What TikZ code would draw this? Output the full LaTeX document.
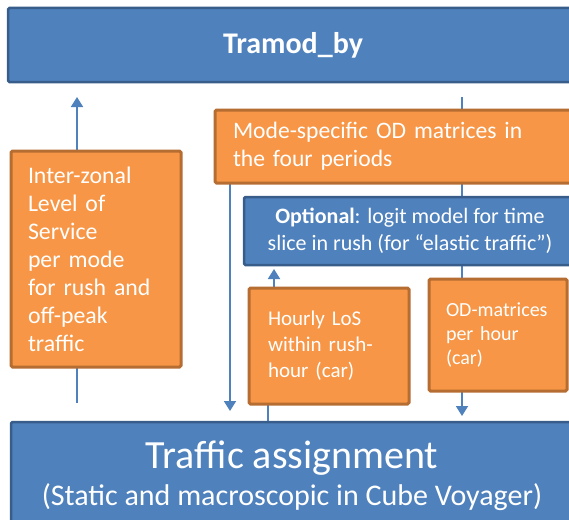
\documentclass[tikz,border=0pt]{standalone}
\usepackage{fontspec}
\setmainfont{Carlito}
\usetikzlibrary{arrows.meta,backgrounds}
\definecolor{boxblue}{HTML}{4F81BD}
\definecolor{boxblueline}{HTML}{385D8A}
\definecolor{boxorange}{HTML}{F79646}
\definecolor{boxorangeline}{HTML}{B66D31}
\begin{document}
\begin{tikzpicture}[x=1pt,y=-1pt]
        \tikzset{
            bluebox/.style={draw=boxblueline, fill=boxblue, line width=2.5pt, text=white, rounded corners=1.5pt, inner sep=0pt, outer sep=0pt, align=center},
            orangebox/.style={draw=boxorangeline, fill=boxorange, line width=3pt, text=white, rounded corners=1.5pt, inner sep=0pt, outer sep=0pt, align=left},
            flow/.style={-{Triangle[width=12pt,length=10pt]}, line width=1.8pt, draw=boxblue},
            link/.style={line width=1.8pt, draw=boxblue}
        }
        \useasboundingbox (0,0) rectangle (569,519);
        \clip (0,0) rectangle (569,519);
        \coordinate (lcol) at (77,0);
        \coordinate (dcol) at (230,0);
        \coordinate (ucol) at (274,0);
        \coordinate (bcol) at (268,0);
        \coordinate (rcol) at (462,0);
        \node[bluebox, minimum width=570pt, minimum height=74pt, font=\fontsize{30}{34}\selectfont\bfseries] (tramod) at (293,45) {Tramod\_by};
        \node[orangebox, minimum width=170pt, minimum height=216pt, text width=136pt, font=\fontsize{23.8}{28}\selectfont] (zonal) at (96,259) {Inter-zonal\\Level of\\Service\\per mode\\for rush and\\off-peak\\traffic};
        \node[orangebox, minimum width=375pt, minimum height=73pt, text width=339pt, font=\fontsize{23.6}{28}\selectfont] (mode) at (402.5,146.5) {Mode-specific OD matrices in\\the four periods};
        \node[bluebox, minimum width=332pt, minimum height=68pt, font=\fontsize{22}{27}\selectfont] (optional) at (410,231) {\textbf{Optional}: logit model for time\\slice in rush (for “elastic traffic”)};
        \node[orangebox, minimum width=160pt, minimum height=116pt, text width=122pt, font=\fontsize{21}{26}\selectfont] (hourly) at (329,346) {Hourly LoS\\within rush-\\hour (car)};
        \node[orangebox, minimum width=138pt, minimum height=112pt, text width=104pt, font=\fontsize{20}{24}\selectfont] (od) at (498,335) {OD-matrices\\per hour\\(car)};
        \node[bluebox, minimum width=562pt, minimum height=108pt, font=\fontsize{30}{37}\selectfont] (traffic) at (292,476) {{\fontsize{40}{37}\selectfont Traffic assignment}\\(Static and macroscopic in Cube Voyager)};
        \begin{scope}[on background layer]
            \draw[flow, shorten >=15pt] (zonal.north -| lcol) -- (tramod.south -| lcol);
            \draw[link, shorten >=19pt] (zonal.south -| lcol) -- (traffic.north -| lcol);
            \draw[link, shorten <=15pt] (tramod.south -| rcol) -- (mode.north -| rcol);
            \draw[link] (mode.south -| rcol) -- (optional.north -| rcol);
            \draw[link] (optional.south -| rcol) -- (od.north -| rcol);
            \draw[flow, shorten >=6pt] (od.south -| rcol) -- (traffic.north -| rcol);
            \draw[flow, shorten >=11pt] (mode.south -| dcol) -- (traffic.north -| dcol);
            \draw[flow, shorten >=4pt] (hourly.north -| ucol) -- (optional.south -| ucol);
            \draw[link] (hourly.south -| bcol) -- (traffic.north -| bcol);
        \end{scope}
\end{tikzpicture}
\end{document}
